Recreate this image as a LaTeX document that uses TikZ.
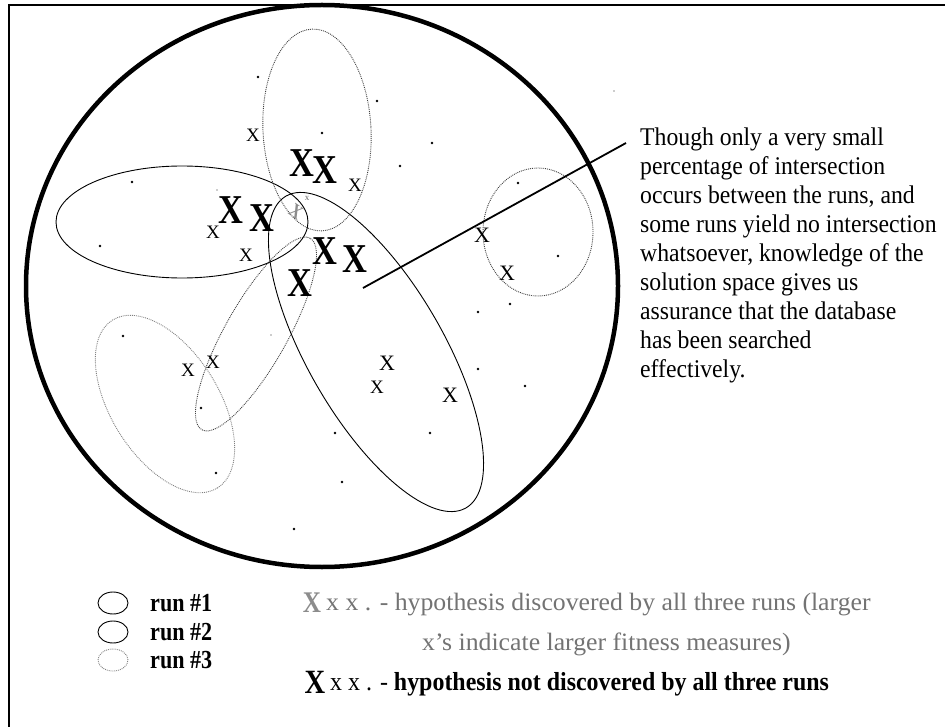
\documentclass[tikz,border=0pt]{standalone}
\usepackage{fontspec}
\setmainfont{Liberation Serif}
\newfontfamily\bodyfont[FakeStretch=0.93]{Liberation Serif}
\newfontfamily\legfont[FakeStretch=0.92]{Liberation Serif}
\newfontfamily\runfont[FakeStretch=0.85]{Liberation Serif}
\newfontfamily\grayfont[FakeStretch=1.03]{Liberation Serif}
\newfontfamily\xfont[FakeStretch=0.84]{Liberation Serif Bold}
\begin{document}
\begin{tikzpicture}[x=1pt,y=-1pt,
  frame/.style={draw=black, line width=1.2pt},
  space/.style={draw=black, line width=4.5pt},
  runA/.style={draw=black, line width=0.9pt},
  runB/.style={draw=black!75, line width=0.9pt, densely dotted},
  runC/.style={draw=black!50, line width=0.9pt, densely dotted},
  pointer/.style={draw=black, line width=1.8pt},
  pt/.style={circle, fill=black, inner sep=0pt, minimum size=2.6pt},
  faintpt/.style={circle, fill=black!40, inner sep=0pt, minimum size=2pt},
  bigx/.style={inner sep=0pt, font=\xfont\fontsize{41}{41}\selectfont},
  midx/.style={inner sep=0pt, font=\fontsize{22}{22}\selectfont},
  smx/.style={inner sep=0pt, font=\fontsize{19}{19}\selectfont},
  grayx/.style={inner sep=0pt, text=black!45, font=\xfont\fontsize{30}{30}\selectfont},
  note/.style={inner sep=0pt, anchor=base west, align=left, font=\bodyfont\fontsize{25.5}{29}\selectfont},
  runlbl/.style={inner sep=0pt, anchor=west, font=\runfont\fontsize{26}{26}\selectfont\bfseries},
  leg/.style={inner sep=0pt, anchor=west}
]
\useasboundingbox (0,0) rectangle (945,727);
% frame
\coordinate (fb) at (9,727);
\coordinate (ftl) at (9,5);
\coordinate (ftr) at (945,5);
\draw[frame] (fb) -- (ftl) -- (ftr);

% solution space
\coordinate (sc) at (322,286);
\draw[space] (sc) ellipse (296pt and 281pt);

% runs
\coordinate (eTop) at (317,130);
\coordinate (eLeft) at (182,222);
\coordinate (eBig) at (376,352);
\coordinate (eThin) at (256,334);
\coordinate (eLow) at (165,404);
\coordinate (eRight) at (538,232);
\draw[runA] (eLeft) ellipse (126pt and 56pt);
\draw[runA, rotate around={-60:(eBig)}] (eBig) ellipse (180pt and 68pt);
\draw[runB, rotate around={3:(eTop)}] (eTop) ellipse (54pt and 101pt);
\draw[runB] (eRight) ellipse (55pt and 64pt);
\draw[runB, rotate around={60.5:(eThin)}] (eThin) ellipse (110pt and 31pt);
\draw[runC, rotate around={-58:(eLow)}] (eLow) ellipse (99pt and 54pt);

% dots
\foreach \p [count=\i] in {(258,77),(377,101),(322,133),(432,143),(400,166),(132,182),(100,246),(518,183),(558,256),(510,304),(478,312),(123,336),(201,408),(478,369),(525,386),(335,433),(430,433),(216,473),(342,482),(294,529)}
  \node[pt] (d\i) at \p {};
\node[faintpt, minimum size=1.6pt] (f1) at (217,190) {};
\node[faintpt, minimum size=1.6pt] (f2) at (271,335) {};
\node[faintpt, minimum size=1.8pt] (f3) at (614,91) {};

% big X
\node[bigx] (X1) at (302,163) {X};
\node[bigx] (X2) at (325,170) {X};
\node[bigx] (X3) at (231,210) {X};
\node[bigx] (X4) at (262,218) {X};
\node[bigx] (X5) at (325,251) {X};
\node[bigx] (X6) at (355,259) {X};
\node[bigx] (X7) at (300,283) {X};
% intersection mark
\node[grayx, rotate=-35, font=\xfont\fontsize{20}{20}\selectfont] (g1) at (296,212) {X};
\node[inner sep=0pt, text=black!60, font=\fontsize{9}{9}\selectfont] (g2) at (307,198) {x};
% small x
\node[smx] (x1) at (253,135) {X};
\node[smx] (x2) at (355,185) {X};
\node[smx] (x3) at (213,232) {X};
\node[smx] (x4) at (246,255) {X};
\node[midx] (x5) at (482,235) {X};
\node[midx] (x6) at (507,273) {X};
\node[smx] (x7) at (188,370) {X};
\node[smx] (x8) at (213,362) {X};
\node[midx] (x9) at (387,363) {X};
\node[smx] (x10) at (377,387) {X};
\node[midx] (x11) at (450,395) {X};

% annotation
\node[note] (txt) at (640,377) {Though only a very small\\percentage of intersection\\occurs between the runs, and\\some runs yield no intersection\\whatsoever, knowledge of the\\solution space gives us\\assurance that the database\\has been searched\\effectively.};
\coordinate (pA) at (363,288);
\coordinate (pB) at (626,143);
\draw[pointer] (pA) -- (pB);

% legend
\coordinate (l1) at (113,603);
\coordinate (l2) at (113,632);
\coordinate (l3) at (113,660);
\draw[runA] (l1) ellipse (15pt and 11pt);
\draw[runA] (l2) ellipse (15pt and 11pt);
\draw[runC] (l3) ellipse (15pt and 11pt);
\node[runlbl] (r1) at (150,603) {run \#1};
\node[runlbl] (r2) at (150,632) {run \#2};
\node[runlbl] (r3) at (150,660) {run \#3};

\node[grayx, font=\xfont\fontsize{30}{30}\selectfont] (k1) at (312,603) {X};
\node[leg, text=black!55, font=\grayfont\fontsize{25}{25}\selectfont] (k1t) at (326,605) {x x . - hypothesis discovered by all three runs (larger};
\node[leg, text=black!55, font=\grayfont\fontsize{25}{25}\selectfont] (k2t) at (422,644) {x’s indicate larger fitness measures)};
\node[bigx, font=\xfont\fontsize{34}{34}\selectfont] (k3) at (315,682) {X};
\node[leg, font=\legfont\fontsize{26}{26}\selectfont] (k3t) at (330,684) {x x . - \textbf{hypothesis not discovered by all three runs}};
\end{tikzpicture}
\end{document}
